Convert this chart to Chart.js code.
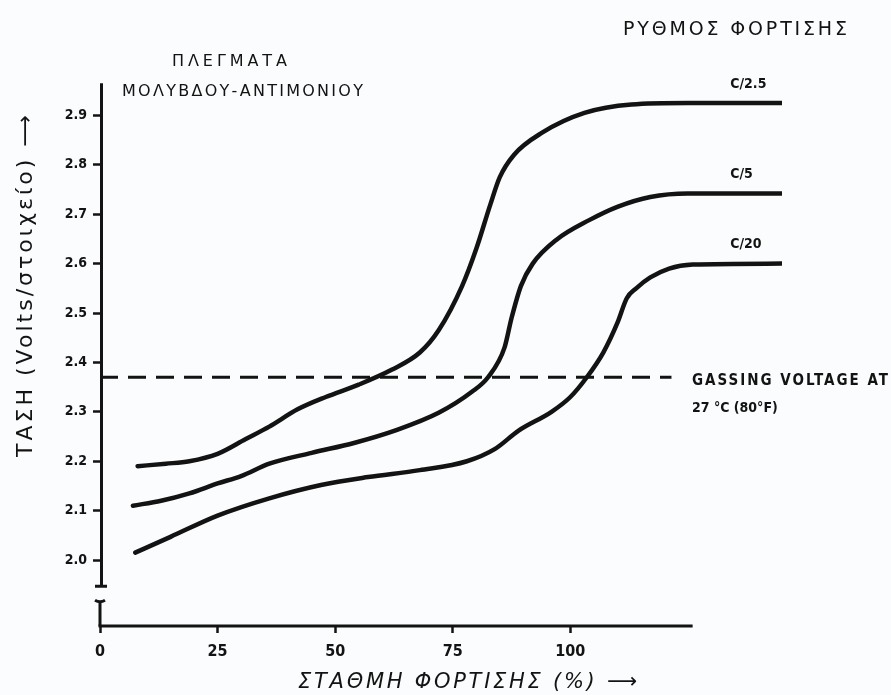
<!DOCTYPE html>
<html>
<head>
<meta charset="utf-8">
<script src="https://cdn.jsdelivr.net/npm/chart.js@4.4.1/dist/chart.umd.min.js"></script>
<style>
  html, body { margin: 0; padding: 0; background: #fbfcfd; }
  #chart { display: block; }
</style>
</head>
<body>
<canvas id="chart" width="891" height="695"></canvas>
<script>
"use strict";

// state of charge (%) against cell voltage, one pair of arrays per charge rate
const rateC25X = [8, 14, 19, 25, 31, 36, 42, 48, 55, 62, 68, 72, 77, 80, 83, 85, 88, 94, 103, 113, 125, 145];
const rateC25Y = [2.19, 2.195, 2.20, 2.215, 2.245, 2.27, 2.305, 2.33, 2.355, 2.385, 2.42, 2.465, 2.555, 2.63, 2.72, 2.775, 2.82, 2.865, 2.905, 2.922, 2.925, 2.925];

const rateC5X = [7, 13, 19, 25, 30, 36, 45, 54, 63, 72, 79, 82.5, 86, 87.5, 89.5, 92, 97, 104, 110, 117, 125, 145];
const rateC5Y = [2.11, 2.12, 2.135, 2.155, 2.17, 2.195, 2.217, 2.237, 2.263, 2.298, 2.34, 2.37, 2.43, 2.49, 2.555, 2.60, 2.648, 2.688, 2.715, 2.735, 2.742, 2.742];

const rateC20X = [7.5, 15, 25, 36, 47, 57, 68, 78, 84, 89, 96, 100, 103.5, 107, 110, 112, 114, 117, 121, 126, 145];
const rateC20Y = [2.015, 2.047, 2.09, 2.125, 2.152, 2.168, 2.182, 2.20, 2.225, 2.262, 2.30, 2.33, 2.37, 2.42, 2.48, 2.53, 2.55, 2.572, 2.59, 2.598, 2.6];

const rateNames = ["C/2.5", "C/5", "C/20"];

const gassingX = [0, 121.5];
const gassingVolts = 2.37;

const xTickValues = [0, 25, 50, 75, 100];
const yTickValues = [2.0, 2.1, 2.2, 2.3, 2.4, 2.5, 2.6, 2.7, 2.8, 2.9];

const ink = "#131313";
const labelFont = "DejaVu Sans Condensed";
const handFont = "DejaVu Sans";

function pairs(xs, ys) {
  return xs.map(function (x, i) { return { x: x, y: ys[i] }; });
}

function curve(name, xs, ys) {
  return {
    label: name,
    data: pairs(xs, ys),
    borderColor: ink,
    borderWidth: 4.5,
    pointRadius: 0,
    fill: false,
    cubicInterpolationMode: "monotone",
    borderCapStyle: "round"
  };
}

// spreads the letters of a string so that it covers a given width
function spacedText(ctx, text, x, y, width) {
  ctx.letterSpacing = "0px";
  const w = ctx.measureText(text).width;
  const gap = Math.max(0, (width - w) / (text.length - 1));
  ctx.letterSpacing = gap + "px";
  ctx.fillText(text, x, y);
  ctx.letterSpacing = "0px";
}

// axis lines with the broken y axis under 2.0
const axisLines = {
  id: "axisLines",
  afterDatasetsDraw: function (chart) {
    const ctx = chart.ctx;
    const xs = chart.scales.x;
    const ys = chart.scales.y;
    const x0 = xs.getPixelForValue(0);
    const yBase = ys.getPixelForValue(ys.min);
    ctx.save();
    ctx.strokeStyle = ink;
    ctx.lineWidth = 3;
    ctx.lineCap = "butt";

    // upper part of the y axis
    const yTop = ys.getPixelForValue(2.965);
    const yCut = ys.getPixelForValue(1.947);
    ctx.beginPath();
    ctx.moveTo(x0 + 1.5, yTop);
    ctx.lineTo(x0 + 1.5, yCut);
    ctx.moveTo(x0 - 5, yCut);
    ctx.lineTo(x0 + 7, yCut);
    ctx.stroke();

    // stub under the break
    const yStub = ys.getPixelForValue(1.9145);
    ctx.beginPath();
    ctx.moveTo(x0 - 5, yStub - 2);
    ctx.quadraticCurveTo(x0, yStub + 1, x0 + 5, yStub - 2);
    ctx.moveTo(x0, yStub);
    ctx.lineTo(x0, yBase);
    ctx.stroke();

    // x axis
    ctx.beginPath();
    ctx.moveTo(x0 - 1.5, yBase);
    ctx.lineTo(xs.getPixelForValue(126), yBase);
    ctx.stroke();
    ctx.restore();
  }
};

// titles, curve names and the gassing note
const notes = {
  id: "notes",
  afterDraw: function (chart) {
    const ctx = chart.ctx;
    const xs = chart.scales.x;
    const ys = chart.scales.y;
    ctx.save();
    ctx.fillStyle = ink;
    ctx.textBaseline = "middle";
    ctx.textAlign = "left";

    ctx.font = "19px '" + handFont + "'";
    spacedText(ctx, "ΡΥΘΜΟΣ ΦΟΡΤΙΣΗΣ", 623, 30, 224);
    ctx.font = "16px '" + handFont + "'";
    spacedText(ctx, "ΠΛΕΓΜΑΤΑ", 172, 62, 115);
    spacedText(ctx, "ΜΟΛΥΒΔΟΥ-ΑΝΤΙΜΟΝΙΟΥ", 122, 92, 241);

    // y axis title, read from bottom to top
    ctx.save();
    ctx.translate(26, 457);
    ctx.rotate(-Math.PI / 2);
    ctx.font = "22px '" + handFont + "'";
    spacedText(ctx, "ΤΑΣΗ (Volts/στοιχείο) ⟶", 0, 0, 342);
    ctx.restore();

    ctx.font = "italic 21px '" + handFont + "'";
    spacedText(ctx, "ΣΤΑΘΜΗ ΦΟΡΤΙΣΗΣ (%) ⟶", 298, 683, 339);

    // rate names sit just above the flat end of each curve
    ctx.font = "bold 14px '" + labelFont + "'";
    chart.data.datasets.slice(0, 3).forEach(function (ds, i) {
      const last = ds.data[ds.data.length - 1];
      ctx.fillText(rateNames[i], xs.getPixelForValue(134), ys.getPixelForValue(last.y) - 19);
    });

    ctx.font = "bold 15px '" + labelFont + "'";
    const gy = ys.getPixelForValue(gassingVolts);
    spacedText(ctx, "GASSING VOLTAGE AT", 692, gy + 4, 196);
    ctx.font = "bold 14px '" + labelFont + "'";
    ctx.fillText("27 °C (80°F)", 692, gy + 31);
    ctx.restore();
  }
};

const ctx = document.getElementById("chart");

const chargeChart = new Chart(ctx, {
  type: "line",
  data: {
    datasets: [
      curve(rateNames[0], rateC25X, rateC25Y),
      curve(rateNames[1], rateC5X, rateC5Y),
      curve(rateNames[2], rateC20X, rateC20Y),
      {
        label: "gassing",
        data: pairs(gassingX, [gassingVolts, gassingVolts]),
        borderColor: ink,
        borderWidth: 3,
        borderDash: [18, 10],
        pointRadius: 0,
        fill: false
      }
    ]
  },
  options: {
    responsive: false,
    animation: false,
    layout: { padding: { left: 0, right: 109, top: 66, bottom: 0 } },
    plugins: {
      legend: { display: false },
      tooltip: { enabled: false }
    },
    scales: {
      x: {
        type: "linear",
        min: 0,
        max: 145,
        afterBuildTicks: function (scale) {
          scale.ticks = xTickValues.map(function (v) { return { value: v }; });
        },
        afterFit: function (scale) { scale.height = 69; },
        border: { display: false },
        grid: { drawOnChartArea: false, drawTicks: true, tickLength: 7, tickWidth: 2.5, tickColor: ink },
        ticks: {
          color: ink,
          padding: 9,
          maxRotation: 0,
          font: { family: labelFont, weight: "bold", size: 16 }
        }
      },
      y: {
        type: "linear",
        min: 1.8665,
        max: 3.0,
        afterBuildTicks: function (scale) {
          scale.ticks = yTickValues.map(function (v) { return { value: v }; });
        },
        afterFit: function (scale) { scale.width = 100; },
        border: { display: false },
        grid: { drawOnChartArea: false, drawTicks: true, tickLength: 7, tickWidth: 2.5, tickColor: ink },
        ticks: {
          color: ink,
          padding: 6,
          font: { family: labelFont, weight: "bold", size: 14 },
          callback: function (v) { return v.toFixed(1); }
        }
      }
    }
  },
  plugins: [axisLines, notes]
});
</script>
</body>
</html>
